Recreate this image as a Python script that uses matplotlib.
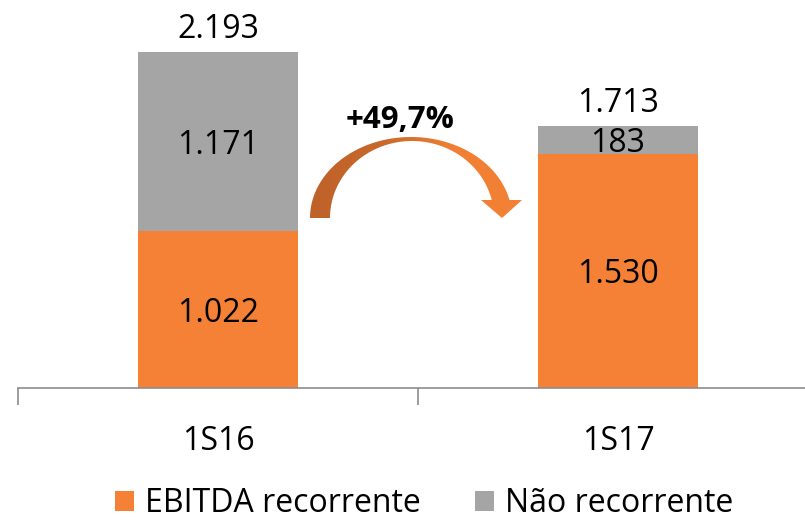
import matplotlib
matplotlib.use("Agg")
import matplotlib.pyplot as plt
import numpy as np
from matplotlib.patches import Polygon, Patch
from matplotlib.colors import LinearSegmentedColormap

categories = ["1S16", "1S17"]
ebitda_recorrente = [1022, 1530]
nao_recorrente = [1171, 183]
totals = [2193, 1713]
tick_labels = ["1S16", "1S17"]
growth_label = "+49,7%"

def fmt(v):
    return f"{v:,}".replace(",", ".")

ORANGE = "#F48136"
GRAY = "#A5A5A5"
FONT = "Open Sans"
FS = 23

W, H = 805, 521
fig = plt.figure(figsize=(W / 100, H / 100), dpi=100)
ax = fig.add_axes([18 / W, (H - 388) / H, 800 / W, 388 / H])

x = np.arange(len(categories))
ax.bar(x, ebitda_recorrente, width=0.4, color=ORANGE, zorder=2)
ax.bar(x, nao_recorrente, width=0.4, bottom=ebitda_recorrente, color=GRAY, zorder=2)

ax.set_xlim(-0.5, 1.5)
ax.set_ylim(0, 2532)
for s in ["top", "right", "left"]:
    ax.spines[s].set_visible(False)
ax.spines["bottom"].set_color("#8C8C8C")
ax.spines["bottom"].set_linewidth(1.2)
ax.set_yticks([])
ax.set_xticks([-0.5, 0.5, 1.5])
ax.set_xticklabels([])
ax.tick_params(axis="x", which="major", length=12, width=1.2, color="#8C8C8C", direction="out")
ax.set_xticks(x, minor=True)
ax.set_xticklabels(tick_labels, minor=True, fontsize=FS, family=FONT)
ax.tick_params(axis="x", which="minor", length=0, pad=27)

PX = 72 / 100  # points per pixel
for i in range(len(categories)):
    e, n, t = ebitda_recorrente[i], nao_recorrente[i], totals[i]
    ax.annotate(fmt(e), (x[i], e / 2), xytext=(0, -12 * PX), textcoords="offset points",
                ha="center", va="baseline", fontsize=FS, family=FONT, zorder=3)
    ax.annotate(fmt(n), (x[i], e + n / 2), xytext=(0, -12 * PX), textcoords="offset points",
                ha="center", va="baseline", fontsize=FS, family=FONT, zorder=3)
    ax.annotate(fmt(t), (x[i], t), xytext=(0, 13.5 * PX), textcoords="offset points",
                ha="center", va="baseline", fontsize=FS, family=FONT, zorder=3)

# Overlay for curved arrow (pixel coordinates)
ov = fig.add_axes([0, 0, 1, 1], facecolor="none")
ov.set_xlim(0, W)
ov.set_ylim(H, 0)
ov.axis("off")

th_o = np.linspace(np.pi, np.arcsin(18 / 81), 80)
outer = np.column_stack([411 + 101 * np.cos(th_o), 218 - 81 * np.sin(th_o)])
th_i = np.linspace(np.arcsin(18 / 77), np.pi, 80)
inner = np.column_stack([412 + 82 * np.cos(th_i), 218 - 77 * np.sin(th_i)])
head = np.array([[522, 200], [502, 218], [481, 200]])
pts = np.vstack([outer, head, inner])
poly = Polygon(pts, closed=True, facecolor="none", edgecolor="none")
ov.add_patch(poly)
cmap = LinearSegmentedColormap.from_list("arr", ["#BE622A", "#C8682C", "#F07F33", "#F48136"])
grad = np.linspace(0, 1, 256).reshape(1, -1)
im = ov.imshow(grad, cmap=cmap, extent=[308, 524, 220, 134], aspect="auto", zorder=2)
im.set_clip_path(poly)

ov.text(400, 120, growth_label, ha="center", va="center", fontsize=22.5, fontweight="bold", family=FONT)

handles = [Patch(facecolor=ORANGE, label="EBITDA recorrente"), Patch(facecolor=GRAY, label="Não recorrente")]
leg = fig.legend(handles=handles, loc="center", bbox_to_anchor=(424 / W, 1 - 504 / H), ncol=2,
                 frameon=False, prop={"family": FONT, "size": 23}, handlelength=0.6, handleheight=0.6,
                 handletextpad=0.35, columnspacing=1.7, borderaxespad=0, borderpad=0)

fig.savefig("out.png", dpi=100)
